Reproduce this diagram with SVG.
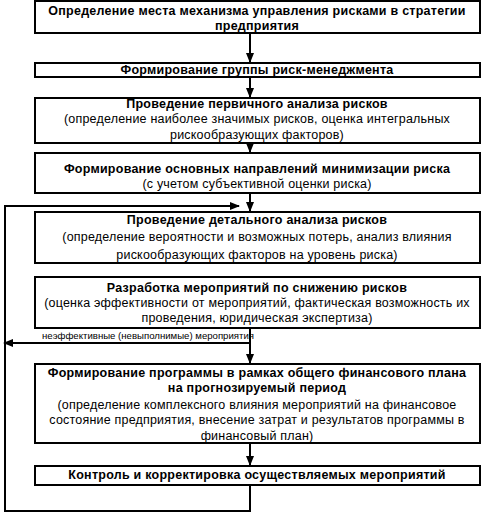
<svg xmlns="http://www.w3.org/2000/svg" width="487" height="513" viewBox="0 0 487 513">
<defs>
<marker id="ah" markerWidth="10" markerHeight="8" refX="9" refY="4" orient="auto" markerUnits="userSpaceOnUse">
<path d="M0,0 L10,4 L0,8 Z" fill="#000"/>
</marker>
</defs>
<style>
.box{fill:#fff;stroke:#000;stroke-width:2}
.b{font-family:"Liberation Sans",Arial,sans-serif;font-size:12.5px;letter-spacing:0.25px;font-weight:bold;text-anchor:middle;fill:#000}
.n{font-family:"Liberation Sans",Arial,sans-serif;font-size:12.5px;letter-spacing:0.2px;text-anchor:middle;fill:#000}
.s{font-family:"Liberation Sans",Arial,sans-serif;font-size:9.5px;fill:#000}
.c{fill:none;stroke:#000;stroke-width:2}
</style>
<rect width="487" height="513" fill="#fff"/>
<g id="connectors">
<line class="c" x1="250" y1="34" x2="250" y2="62" marker-end="url(#ah)"/>
<line class="c" x1="250" y1="77" x2="250" y2="97" marker-end="url(#ah)"/>
<line class="c" x1="250" y1="144" x2="250" y2="152" marker-end="url(#ah)"/>
<line class="c" x1="250" y1="194" x2="250" y2="211" marker-end="url(#ah)"/>
<line class="c" x1="250" y1="329" x2="250" y2="363" marker-end="url(#ah)"/>
<line class="c" x1="250" y1="444" x2="250" y2="465" marker-end="url(#ah)"/>
<polyline class="c" points="250,486 250,511 5,511 5,206 239,206" marker-end="url(#ah)"/>
<line class="c" x1="250" y1="343" x2="4" y2="343" marker-end="url(#ah)"/>
<text class="s" x="42" y="339" textLength="212" lengthAdjust="spacingAndGlyphs">неэффективные (невыполнимые) мероприятия</text>
</g>
<g id="n1">
<rect class="box" x="35" y="1" width="445" height="32"/>
<text class="b" x="257" y="15">Определение места механизма управления рисками в стратегии</text>
<text class="b" x="257" y="30">предприятия</text>
</g>
<g id="n2">
<rect class="box" x="35" y="63" width="445" height="14"/>
<text class="b" x="257" y="74">Формирование группы риск-менеджмента</text>
</g>
<g id="n3">
<rect class="box" x="35" y="98" width="445" height="45"/>
<text class="b" x="257" y="108">Проведение первичного анализа рисков</text>
<text class="n" x="257" y="123">(определение наиболее значимых рисков, оценка интегральных</text>
<text class="n" x="257" y="139">рискообразующих факторов)</text>
</g>
<g id="n4">
<rect class="box" x="35" y="153" width="445" height="40"/>
<text class="b" x="257" y="173">Формирование основных направлений минимизации риска</text>
<text class="n" x="257" y="188">(с учетом субъективной оценки риска)</text>
</g>
<g id="n5">
<rect class="box" x="35" y="212" width="445" height="51"/>
<text class="b" x="257" y="224">Проведение детального анализа рисков</text>
<text class="n" x="257" y="241">(определение вероятности и возможных потерь, анализ влияния</text>
<text class="n" x="257" y="259">рискообразующих факторов на уровень риска)</text>
</g>
<g id="n6">
<rect class="box" x="35" y="277" width="445" height="51"/>
<text class="b" x="257" y="292">Разработка мероприятий по снижению рисков</text>
<text class="n" x="257" y="307">(оценка эффективности от мероприятий, фактическая возможность их</text>
<text class="n" x="257" y="322">проведения, юридическая экспертиза)</text>
</g>
<g id="n7">
<rect class="box" x="35" y="364" width="445" height="79"/>
<text class="b" x="257" y="377">Формирование программы в рамках общего финансового плана</text>
<text class="b" x="257" y="392">на прогнозируемый период</text>
<text class="n" x="257" y="409">(определение комплексного влияния мероприятий на финансовое</text>
<text class="n" x="257" y="424">состояние предприятия, внесение затрат и результатов программы в</text>
<text class="n" x="257" y="440">финансовый план)</text>
</g>
<g id="n8">
<rect class="box" x="35" y="466" width="445" height="19"/>
<text class="b" x="257" y="479">Контроль и корректировка осуществляемых мероприятий</text>
</g>
</svg>
